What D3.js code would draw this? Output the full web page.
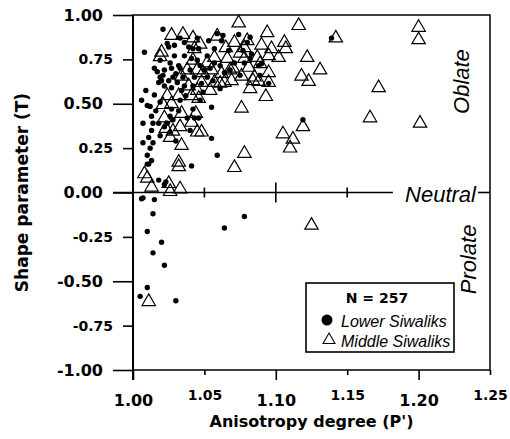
<!DOCTYPE html>
<html>
<head>
<meta charset="utf-8">
<script src="https://cdn.jsdelivr.net/npm/d3@7"></script>
<style>
  body { margin: 0; background: #fff; }
  svg { display: block; }
  .bold { font-family: "DejaVu Sans", sans-serif; font-weight: bold; fill: #000; }
  .ital { font-family: "Liberation Sans", Arial, sans-serif; font-style: italic; fill: #000; }
</style>
</head>
<body>
<div id="chart"></div>
<script>
// ticks
const xMajor = [1.00, 1.10, 1.20];
const xMinor = [1.05, 1.15, 1.25];
const yMajor = [1.00, 0.50, 0.00, -0.50, -1.00];
const yMinor = [0.75, 0.25, -0.25, -0.75];

// [P', T]
const lowerSiwaliks = [
  [1.021,0.92],[1.008,0.79],[1.024,0.84],[1.025,0.82],[1.029,0.77],[1.036,0.77],[1.033,0.70],[1.015,0.70],[1.017,0.68],[1.019,0.65],
  [1.021,0.66],[1.025,0.63],[1.028,0.65],[1.027,0.70],[1.031,0.62],[1.035,0.65],[1.043,0.65],[1.026,0.73],[1.018,0.62],[1.022,0.60],
  [1.027,0.59],[1.015,0.55],[1.006,0.52],[1.010,0.49],[1.012,0.485],[1.019,0.51],[1.013,0.43],[1.027,0.47],[1.026,0.43],[1.018,0.39],
  [1.007,0.39],[1.014,0.39],[1.024,0.39],[1.022,0.37],[1.026,0.34],[1.011,0.31],[1.028,0.41],[1.007,0.28],[1.014,0.28],[1.012,0.25],
  [1.010,0.21],[1.010,0.16],[1.011,0.16],[1.018,0.07],[1.023,0.06],[1.022,0.045],[1.041,0.15],[1.033,0.52],[1.038,0.42],[1.043,0.42],
  [1.033,0.87],[1.039,0.82],[1.042,0.81],[1.032,0.715],[1.041,0.755],[1.034,0.575],[1.042,0.60],[1.036,0.845],[1.013,0.35],[1.029,0.83],
  [1.020,0.63],[1.006,-0.035],[1.007,-0.03],[1.015,-0.04],[1.014,-0.12],[1.010,-0.22],[1.020,-0.28],[1.014,-0.34],[1.022,-0.41],[1.010,-0.535],
  [1.005,-0.585],[1.030,-0.61],[1.064,-0.20],[1.078,-0.135],[1.053,0.855],[1.059,0.895],[1.063,0.885],[1.062,0.855],[1.074,0.89],[1.082,0.875],
  [1.080,0.845],[1.045,0.87],[1.046,0.81],[1.045,0.745],[1.047,0.715],[1.052,0.77],[1.054,0.70],[1.057,0.73],[1.061,0.715],[1.078,0.73],
  [1.082,0.755],[1.088,0.715],[1.089,0.66],[1.056,0.63],[1.052,0.65],[1.048,0.615],[1.055,0.48],[1.046,0.42],[1.055,0.305],[1.059,0.21],
  [1.095,0.615],[1.139,0.87],[1.119,0.41],[1.077,0.80],[1.083,0.78],[1.090,0.725],[1.061,0.585],[1.049,0.565],[1.068,0.69],[1.071,0.73],
  [1.064,0.675],[1.075,0.66],[1.040,0.69],[1.037,0.545],[1.032,0.46],[1.016,0.46],[1.009,0.575],[1.019,0.745],[1.022,0.69],[1.047,0.52],
  [1.040,0.35],[1.030,0.29],[1.019,0.32],[1.013,0.18],[1.030,0.67],[1.036,0.60],[1.050,0.69],[1.067,0.80],[1.057,0.81],[1.042,0.47]
];

const middleSiwaliks = [
  [1.027,0.885],[1.035,0.89],[1.042,0.87],[1.020,0.79],[1.019,0.765],[1.043,0.81],[1.042,0.745],[1.038,0.69],[1.034,0.655],[1.045,0.69],
  [1.024,0.545],[1.021,0.495],[1.027,0.50],[1.034,0.445],[1.033,0.37],[1.023,0.36],[1.028,0.345],[1.022,0.42],[1.041,0.395],[1.044,0.445],
  [1.032,0.545],[1.041,0.545],[1.034,0.265],[1.032,0.17],[1.032,0.145],[1.008,0.105],[1.010,0.08],[1.013,0.03],[1.025,0.05],[1.026,0.005],
  [1.033,0.02],[1.045,0.575],[1.026,0.31],[1.045,0.34],[1.074,0.955],[1.094,0.90],[1.116,0.94],[1.142,0.87],[1.200,0.93],[1.200,0.86],
  [1.059,0.88],[1.080,0.855],[1.090,0.83],[1.097,0.81],[1.106,0.845],[1.107,0.81],[1.102,0.76],[1.122,0.76],[1.131,0.69],[1.118,0.655],
  [1.123,0.625],[1.172,0.59],[1.093,0.54],[1.076,0.475],[1.166,0.42],[1.201,0.39],[1.119,0.37],[1.105,0.33],[1.112,0.30],[1.110,0.25],
  [1.078,0.22],[1.071,0.14],[1.085,0.65],[1.088,0.625],[1.095,0.675],[1.076,0.655],[1.081,0.705],[1.070,0.70],[1.049,0.675],[1.089,0.725],
  [1.047,0.835],[1.078,0.815],[1.057,0.76],[1.066,0.755],[1.075,0.785],[1.078,0.755],[1.087,0.76],[1.095,0.77],[1.062,0.67],[1.068,0.69],
  [1.048,0.62],[1.057,0.62],[1.095,0.62],[1.084,0.63],[1.061,0.615],[1.064,0.62],[1.046,0.53],[1.048,0.34],[1.125,-0.185],[1.011,-0.615],
  [1.054,0.575],[1.065,0.815],[1.071,0.845],[1.052,0.73],[1.039,0.60],[1.082,0.585],[1.069,0.63],[1.055,0.69]
];

const width = 510;
const height = 439;
const plotLeft = 133, plotRight = 490, plotTop = 15, plotBottom = 370;

const x = d3.scaleLinear().domain([1.0, 1.25]).range([plotLeft, plotRight]);
const y = d3.scaleLinear().domain([-1, 1]).range([plotBottom, plotTop]);
const fmt = function (d) { return d.toFixed(2); };

const svg = d3.select("#chart").append("svg")
  .attr("width", width)
  .attr("height", height);

// frame
svg.append("rect")
  .attr("x", plotLeft).attr("y", plotTop)
  .attr("width", plotRight - plotLeft).attr("height", plotBottom - plotTop)
  .attr("fill", "none").attr("stroke", "#000").attr("stroke-width", 1.5);

function styleAxis(g) {
  g.select(".domain").remove();
  g.selectAll(".tick line").attr("stroke", "#000").attr("stroke-width", 1.6);
}

function styleLabels(size, yPos) {
  return function (g) {
    const t = g.selectAll("text")
      .attr("class", "bold")
      .attr("font-family", null)
      .attr("font-size", null)
      .style("font-size", size + "px");
    if (yPos !== undefined) {
      t.attr("dy", null).attr("y", yPos);
    }
  };
}

// y axis: major and minor
svg.append("g")
  .attr("transform", `translate(${plotLeft},0)`)
  .call(d3.axisLeft(y).tickValues(yMajor).tickSize(20).tickPadding(10).tickFormat(fmt))
  .call(styleAxis)
  .call(styleLabels(16));

svg.append("g")
  .attr("transform", `translate(${plotLeft},0)`)
  .call(d3.axisLeft(y).tickValues(yMinor).tickSize(10).tickPadding(10).tickFormat(fmt))
  .call(styleAxis)
  .call(styleLabels(14));

// left axis line (runs past the bottom like a tick)
svg.append("line")
  .attr("x1", plotLeft).attr("x2", plotLeft)
  .attr("y1", plotTop).attr("y2", plotBottom + 10)
  .attr("stroke", "#000").attr("stroke-width", 2);

// x axis: major labels low, minor labels raised
svg.append("g")
  .attr("transform", `translate(0,${plotBottom})`)
  .call(d3.axisBottom(x).tickValues(xMajor).tickSize(10).tickFormat(fmt))
  .call(styleAxis)
  .call(styleLabels(16, 36));

svg.append("g")
  .attr("transform", `translate(0,${plotBottom})`)
  .call(d3.axisBottom(x).tickValues(xMinor).tickSize(5).tickFormat(fmt))
  .call(styleAxis)
  .call(styleLabels(14, 30));

// neutral (T = 0) line with its own ticks
const y0 = y(0);
svg.append("line")
  .attr("x1", plotLeft - 20).attr("x2", x(1.182))
  .attr("y1", y0).attr("y2", y0)
  .attr("stroke", "#000").attr("stroke-width", 1.6);

svg.append("line")
  .attr("x1", x(1.2416)).attr("x2", plotRight)
  .attr("y1", y0).attr("y2", y0)
  .attr("stroke", "#000").attr("stroke-width", 1.6);

svg.selectAll(".zero-tick")
  .data([1.05, 1.10, 1.15])
  .join("line")
  .attr("class", "zero-tick")
  .attr("x1", function (d) { return x(d); })
  .attr("x2", function (d) { return x(d); })
  .attr("y1", function (d) { return y0 - (d === 1.10 ? 10 : 5); })
  .attr("y2", function (d) { return y0 + (d === 1.10 ? 10 : 5); })
  .attr("stroke", "#000").attr("stroke-width", 1.6);

// zone labels
svg.append("text")
  .attr("class", "ital")
  .attr("x", x(1.1905)).attr("y", y0 + 9)
  .style("font-size", "22px")
  .text("Neutral");

svg.append("text")
  .attr("class", "ital")
  .attr("transform", `translate(${x(1.2353)},${y(0.625)}) rotate(-90)`)
  .attr("text-anchor", "middle")
  .style("font-size", "22px")
  .text("Oblate");

svg.append("text")
  .attr("class", "ital")
  .attr("transform", `translate(${x(1.2402)},${y(-0.377)}) rotate(-90)`)
  .attr("text-anchor", "middle")
  .style("font-size", "22px")
  .text("Prolate");

// points
const tri = d3.symbol().type(d3.symbolTriangle).size(78);

svg.append("g")
  .selectAll("circle")
  .data(lowerSiwaliks)
  .join("circle")
  .attr("cx", function (d) { return x(d[0]); })
  .attr("cy", function (d) { return y(d[1]); })
  .attr("r", 2.7)
  .attr("fill", "#000");

svg.append("g")
  .selectAll("path")
  .data(middleSiwaliks)
  .join("path")
  .attr("d", tri)
  .attr("transform", function (d) { return `translate(${x(d[0])},${y(d[1])})`; })
  .attr("fill", "none")
  .attr("stroke", "#000")
  .attr("stroke-width", 1.2);

// axis titles
svg.append("text")
  .attr("class", "bold")
  .attr("x", (plotLeft + plotRight) / 2).attr("y", 427)
  .attr("text-anchor", "middle")
  .style("font-size", "16px")
  .text("Anisotropy degree (P')");

svg.append("text")
  .attr("class", "bold")
  .attr("transform", `translate(28,${y0}) rotate(-90)`)
  .attr("text-anchor", "middle")
  .style("font-size", "17px")
  .text("Shape parameter (T)");

// legend
const legend = svg.append("g").attr("transform", "translate(306,283)");

legend.append("rect")
  .attr("width", 148).attr("height", 69)
  .attr("fill", "#fff").attr("stroke", "#000").attr("stroke-width", 1.6);

legend.append("text")
  .attr("class", "bold")
  .attr("x", 71).attr("y", 20)
  .attr("text-anchor", "middle")
  .style("font-size", "14px")
  .text("N = 257");

legend.append("circle")
  .attr("cx", 21).attr("cy", 37).attr("r", 5.5).attr("fill", "#000");

legend.append("text")
  .attr("class", "ital")
  .attr("x", 35).attr("y", 44)
  .style("font-size", "16px")
  .text("Lower Siwaliks");

legend.append("path")
  .attr("d", d3.symbol().type(d3.symbolTriangle).size(62))
  .attr("transform", "translate(23,57)")
  .attr("fill", "none").attr("stroke", "#000").attr("stroke-width", 1.1);

legend.append("text")
  .attr("class", "ital")
  .attr("x", 35).attr("y", 64)
  .style("font-size", "16px")
  .text("Middle Siwaliks");
</script>
</body>
</html>
